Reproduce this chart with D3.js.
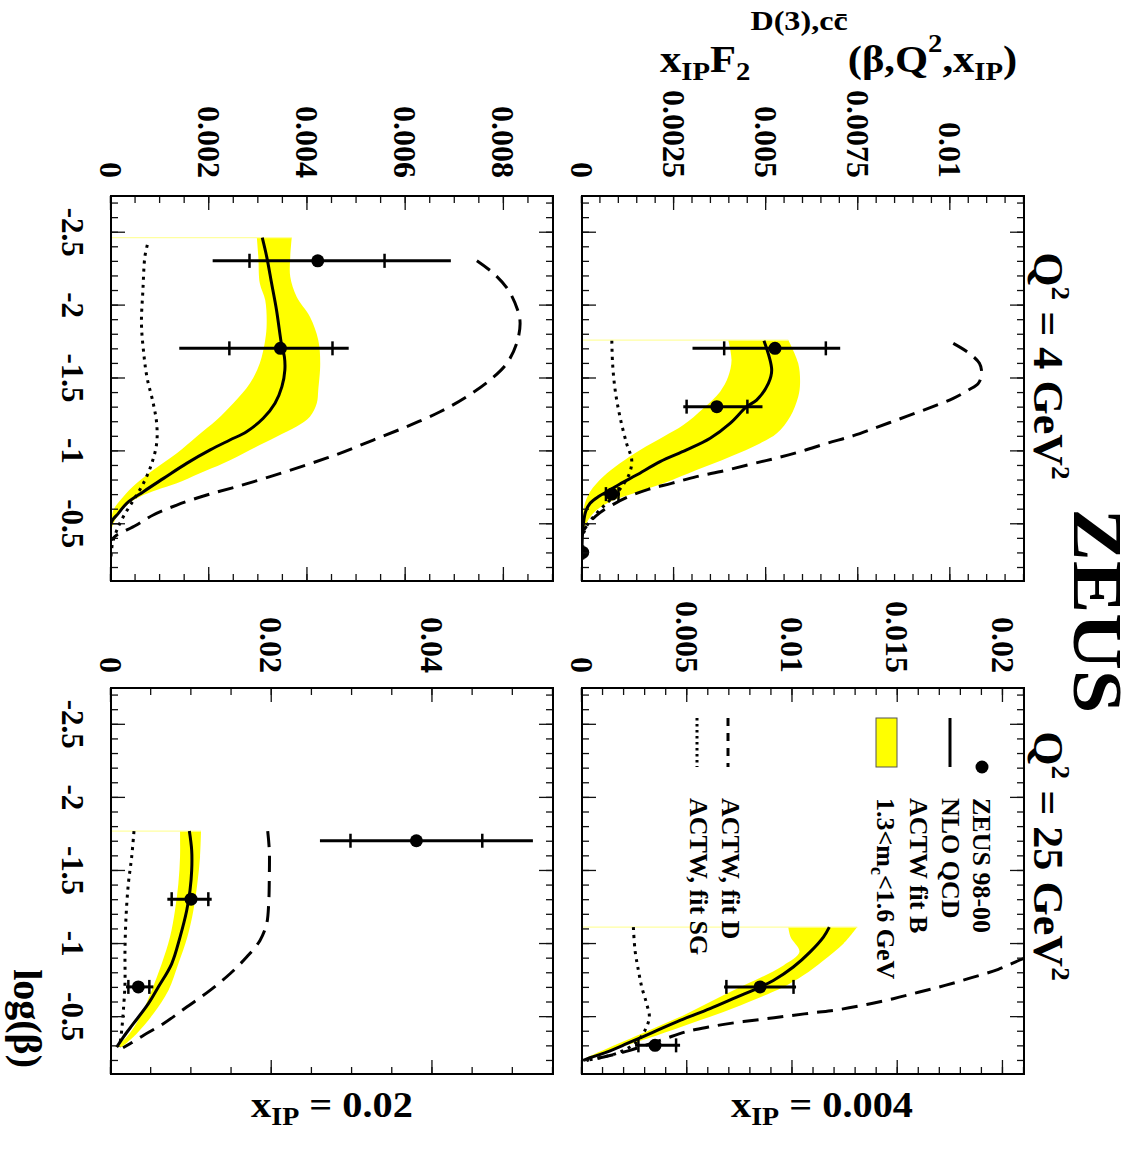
<!DOCTYPE html>
<html><head><meta charset="utf-8">
<script src="https://cdnjs.cloudflare.com/ajax/libs/d3/7.8.5/d3.min.js"></script>
<style>body{margin:0;background:#fff}svg{display:block}</style>
</head><body><svg id="c" width="1140" height="1151"></svg>
<script>
// ---------------- DATA ----------------
const logBetaTicks = [-2.5, -2, -1.5, -1, -0.5];
const logBetaTickLabels = ["-2.5", "-2", "-1.5", "-1", "-0.5"];
const q2Values = ["4", "25"];
const xpomValues = ["0.004", "0.02"];

// y-axis ticks per panel
const yTicks_x004_q4 = [0, 0.0025, 0.005, 0.0075, 0.01];
const yLabels_x004_q4 = ["0", "0.0025", "0.005", "0.0075", "0.01"];
const yTicks_x004_q25 = [0, 0.005, 0.01, 0.015, 0.02];
const yLabels_x004_q25 = ["0", "0.005", "0.01", "0.015", "0.02"];
const yTicks_x02_q4 = [0, 0.002, 0.004, 0.006, 0.008];
const yLabels_x02_q4 = ["0", "0.002", "0.004", "0.006", "0.008"];
const yTicks_x02_q25 = [0, 0.02, 0.04];
const yLabels_x02_q25 = ["0", "0.02", "0.04"];

// ZEUS 98-00 points: [logBeta, value, statLo, statHi, totLo, totHi]
const zeus_x004_q4 = [[-1.7,0.00524,0.00386,0.00662,0.00300,0.00701],[-1.3,0.00366,0.00284,0.00449,0.00275,0.00490],[-0.7,0.00081,0.00065,0.00099,0.00058,0.00103],[-0.3,0.00002,0.00001,0.00003,0.0,0.00004]];
const zeus_x004_q25 = [[-0.7,0.00846,0.00686,0.01005,0.00675,0.01017],[-0.3,0.00347,0.00268,0.00447,0.00252,0.00466]];
const zeus_x02_q4 = [[-2.3,0.00421,0.00282,0.00557,0.00207,0.00692],[-1.7,0.00345,0.00241,0.00451,0.00139,0.00484]];
const zeus_x02_q25 = [[-1.7,0.0380,0.0298,0.0462,0.0260,0.0525],[-1.3,0.00996,0.00755,0.01211,0.00701,0.01253],[-0.7,0.0034,0.00216,0.00477,0.00187,0.00527]];

// NLO QCD (ACTW fit B) central curves [logBeta, value]
const nlo_x004_q4 = [[-1.752,0.00494],[-1.551,0.00515],[-1.460,0.00506],[-1.345,0.00474],[-1.300,0.00447],[-1.185,0.00402],[-1.083,0.00348],[-1.003,0.00284],[-0.923,0.00212],[-0.831,0.00148],[-0.769,0.00103],[-0.728,0.00076],[-0.682,0.00044],[-0.637,0.00022],[-0.580,0.00010],[-0.500,0.00004],[-0.408,0.00001],[-0.317,0.0]];
const nlo_x004_q25 = [[-1.109,0.01175],[-1.041,0.01147],[-0.938,0.01083],[-0.836,0.01004],[-0.744,0.00909],[-0.699,0.00846],[-0.630,0.00735],[-0.551,0.00608],[-0.471,0.00466],[-0.391,0.00339],[-0.311,0.00212],[-0.254,0.00117],[-0.215,0.00038],[-0.197,0.00006]];
const nlo_x02_q4 = [[-2.459,0.00308],[-2.329,0.00317],[-2.146,0.00327],[-1.963,0.00337],[-1.711,0.00348],[-1.643,0.00353],[-1.551,0.00354],[-1.437,0.00348],[-1.323,0.00334],[-1.220,0.00310],[-1.128,0.00276],[-1.071,0.00242],[-1.003,0.00202],[-0.911,0.00154],[-0.808,0.00107],[-0.717,0.00066],[-0.637,0.00032],[-0.568,0.00015],[-0.522,0.00003],[-0.500,0.0]];
const nlo_x02_q25 = [[-1.766,0.00975],[-1.634,0.01004],[-1.497,0.01004],[-1.360,0.00983],[-1.223,0.00942],[-1.041,0.00859],[-0.858,0.00755],[-0.699,0.00589],[-0.585,0.00465],[-0.448,0.00278],[-0.357,0.00154],[-0.288,0.00071]];

// 1.3 < m_c < 1.6 GeV band edges
const bandHi_x004_q4 = [[-1.757,0.00560],[-1.597,0.00587],[-1.460,0.00592],[-1.368,0.00587],[-1.231,0.00565],[-1.117,0.00529],[-1.048,0.00483],[-0.957,0.00402],[-0.865,0.00311],[-0.774,0.00221],[-0.705,0.00139],[-0.648,0.00076],[-0.591,0.00040],[-0.522,0.00017],[-0.454,0.00005],[-0.362,0.00002],[-0.225,0.0]];
const bandLo_x004_q4 = [[-1.757,0.00397],[-1.620,0.00406],[-1.506,0.00397],[-1.403,0.00375],[-1.288,0.00329],[-1.174,0.00275],[-1.094,0.00221],[-1.003,0.00158],[-0.911,0.00103],[-0.820,0.00058],[-0.717,0.00022],[-0.637,0.00008],[-0.545,0.00002],[-0.454,0.0]];
const bandHi_x004_q25 = [[-1.109,0.01308],[-0.995,0.01242],[-0.881,0.01147],[-0.779,0.01052],[-0.699,0.00957],[-0.619,0.00830],[-0.528,0.00672],[-0.448,0.00513],[-0.368,0.00355],[-0.300,0.00212],[-0.243,0.00101],[-0.197,0.00014]];
const bandLo_x004_q25 = [[-1.109,0.00980],[-1.041,0.00991],[-0.938,0.01033],[-0.847,0.00957],[-0.767,0.00854],[-0.687,0.00735],[-0.596,0.00608],[-0.505,0.00481],[-0.425,0.00355],[-0.345,0.00228],[-0.277,0.00117],[-0.227,0.00038],[-0.202,0.00006]];
const bandHi_x02_q4 = [[-2.459,0.00368],[-2.329,0.00365],[-2.191,0.00365],[-2.054,0.00378],[-1.917,0.00405],[-1.757,0.00422],[-1.597,0.00426],[-1.414,0.00422],[-1.323,0.00419],[-1.231,0.00405],[-1.163,0.00378],[-1.094,0.00337],[-1.003,0.00283],[-0.911,0.00229],[-0.843,0.00181],[-0.774,0.00134],[-0.728,0.00093],[-0.682,0.00059],[-0.625,0.00032],[-0.545,0.00012],[-0.454,0.00001],[-0.271,0.0]];
const bandLo_x02_q4 = [[-2.459,0.00297],[-2.329,0.00300],[-2.146,0.00303],[-2.031,0.00314],[-1.871,0.00317],[-1.757,0.00314],[-1.597,0.00303],[-1.460,0.00283],[-1.323,0.00249],[-1.208,0.00215],[-1.094,0.00174],[-0.980,0.00134],[-0.865,0.00086],[-0.774,0.00052],[-0.682,0.00025],[-0.591,0.00005],[-0.500,0.0]];
const bandHi_x02_q25 = [[-1.766,0.01120],[-1.588,0.01108],[-1.406,0.01074],[-1.223,0.01025],[-1.041,0.00950],[-0.858,0.00838],[-0.676,0.00714],[-0.516,0.00527],[-0.380,0.00319],[-0.288,0.00133]];
const bandLo_x02_q25 = [[-1.766,0.00859],[-1.588,0.00859],[-1.406,0.00838],[-1.223,0.00796],[-1.041,0.00734],[-0.858,0.00631],[-0.676,0.00506],[-0.494,0.00361],[-0.357,0.00195],[-0.288,0.00050]];

// ACTW fit D (dashed)
const fitD_x004_q4 = [[-1.734,0.01008],[-1.670,0.01049],[-1.597,0.01079],[-1.528,0.01085],[-1.460,0.01076],[-1.414,0.01049],[-1.357,0.01008],[-1.311,0.00963],[-1.259,0.00909],[-1.208,0.00854],[-1.158,0.00800],[-1.101,0.00737],[-1.048,0.00664],[-0.991,0.00592],[-0.945,0.00524],[-0.904,0.00456],[-0.859,0.00384],[-0.820,0.00311],[-0.774,0.00243],[-0.733,0.00180],[-0.682,0.00126],[-0.630,0.00085],[-0.573,0.00049],[-0.511,0.00022],[-0.454,0.00005]];
const fitD_x004_q25 = [[-0.95,0.0222],[-0.893,0.02097],[-0.820,0.01978],[-0.763,0.01851],[-0.710,0.01725],[-0.665,0.01603],[-0.619,0.01479],[-0.580,0.01353],[-0.546,0.01226],[-0.523,0.01099],[-0.500,0.00972],[-0.478,0.00854],[-0.455,0.00727],[-0.425,0.00600],[-0.391,0.00489],[-0.345,0.00394],[-0.307,0.00315],[-0.266,0.00228],[-0.231,0.00133],[-0.197,0.00022]];
const fitD_x02_q4 = [[-2.301,0.00745],[-2.214,0.00779],[-2.100,0.00809],[-1.963,0.00828],[-1.871,0.00833],[-1.734,0.00826],[-1.597,0.00806],[-1.483,0.00772],[-1.368,0.00724],[-1.265,0.00670],[-1.163,0.00602],[-1.071,0.00534],[-0.980,0.00466],[-0.900,0.00398],[-0.820,0.00324],[-0.751,0.00256],[-0.694,0.00195],[-0.625,0.00134],[-0.557,0.00086],[-0.488,0.00052],[-0.442,0.00025],[-0.420,0.00012],[-0.385,0.00001]];
const fitD_x02_q25 = [[-1.766,0.01950],[-1.634,0.01970],[-1.451,0.01970],[-1.269,0.01962],[-1.132,0.01937],[-1.018,0.01854],[-0.904,0.01688],[-0.790,0.01481],[-0.676,0.01232],[-0.562,0.00942],[-0.448,0.00651],[-0.368,0.00402],[-0.311,0.00236],[-0.284,0.00150]];

// ACTW fit SG (dotted)
const fitSG_x004_q4 = [[-1.752,0.00081],[-1.597,0.00083],[-1.414,0.00090],[-1.231,0.00103],[-1.048,0.00121],[-0.934,0.00135],[-0.843,0.00129],[-0.751,0.00108],[-0.660,0.00076],[-0.580,0.00044],[-0.500,0.00017],[-0.431,0.00004]];
const fitSG_x004_q25 = [[-1.109,0.00244],[-0.950,0.00252],[-0.813,0.00268],[-0.699,0.00284],[-0.585,0.00307],[-0.494,0.00320],[-0.402,0.00299],[-0.323,0.00260],[-0.254,0.00181],[-0.215,0.00086],[-0.197,0.00014]];
const fitSG_x02_q4 = [[-2.409,0.00074],[-2.329,0.00069],[-2.100,0.00065],[-1.871,0.00062],[-1.688,0.00066],[-1.506,0.00073],[-1.323,0.00086],[-1.185,0.00093],[-1.048,0.00093],[-0.911,0.00083],[-0.774,0.00066],[-0.660,0.00046],[-0.545,0.00025],[-0.454,0.00012],[-0.362,0.00003],[-0.271,0.0]];
const fitSG_x02_q25 = [[-1.766,0.00286],[-1.588,0.00257],[-1.406,0.00216],[-1.178,0.00187],[-0.950,0.00174],[-0.722,0.00174],[-0.539,0.00154],[-0.402,0.00133],[-0.311,0.00112],[-0.288,0.00105]];

const legendLabels = ["ZEUS 98-00", "NLO QCD", "ACTW fit B", "ACTW, fit D", "ACTW, fit SG"];

// ---------------- LAYOUT (unrotated frame, then turned 90° clockwise) ----------------
const FONT = '"Liberation Serif","Times New Roman",Times,serif';
const svg = d3.select("#c");
const root = svg.append("g").attr("transform", "translate(1140,0) rotate(90)");
const colX = [[196, 581], [688, 1074]];   // Q2 = 4, 25
const rowY = [[116, 558], [587, 1029]];   // xIP = 0.004, 0.02
const xDomain = [-2.745, -0.104];
const labelPad = [18, 15];

const panels = [
  {c:0, r:0, yMax:0.012, minor:0.0005, yT:yTicks_x004_q4, yL:yLabels_x004_q4, nlo:nlo_x004_q4, bh:bandHi_x004_q4, bl:bandLo_x004_q4, fd:fitD_x004_q4, fs:fitSG_x004_q4, pts:zeus_x004_q4},
  {c:1, r:0, yMax:0.021, minor:0.001, yT:yTicks_x004_q25, yL:yLabels_x004_q25, nlo:nlo_x004_q25, bh:bandHi_x004_q25, bl:bandLo_x004_q25, fd:fitD_x004_q25, fs:fitSG_x004_q25, pts:zeus_x004_q25, legend:true},
  {c:0, r:1, yMax:0.009, minor:0.0005, yT:yTicks_x02_q4, yL:yLabels_x02_q4, nlo:nlo_x02_q4, bh:bandHi_x02_q4, bl:bandLo_x02_q4, fd:fitD_x02_q4, fs:fitSG_x02_q4, pts:zeus_x02_q4},
  {c:1, r:1, yMax:0.055, minor:0.005, yT:yTicks_x02_q25, yL:yLabels_x02_q25, nlo:nlo_x02_q25, bh:bandHi_x02_q25, bl:bandLo_x02_q25, fd:fitD_x02_q25, fs:fitSG_x02_q25, pts:zeus_x02_q25}
];

const defs = svg.append("defs");
const lbMinor = d3.range(-27, -1, 1).map(d => d / 10);

function tickAxis(g, axisFn, scale, vals, len, tx, ty) {
  g.append("g").attr("transform", `translate(${tx},${ty})`)
    .call(axisFn(scale).tickValues(vals).tickSize(-len).tickFormat(""))
    .call(s => s.select(".domain").remove())
    .selectAll("line").attr("stroke", "#111").attr("stroke-width", 1.3);
}

panels.forEach((p, i) => {
  const [X0, X1] = colX[p.c], [Y0, Y1] = rowY[p.r];
  const x = d3.scaleLinear().domain(xDomain).range([X0, X1]);
  const y = d3.scaleLinear().domain([0, p.yMax]).range([Y1, Y0]);
  const g = root.append("g");
  defs.append("clipPath").attr("id", "clip" + i).append("rect")
    .attr("x", X0).attr("y", Y0).attr("width", X1 - X0).attr("height", Y1 - Y0);
  const cg = g.append("g").attr("clip-path", `url(#clip${i})`);
  const line = d3.line().x(d => x(d[0])).y(d => y(d[1])).curve(d3.curveCatmullRom.alpha(0.5));

  // band
  const up = line(p.bh), lo = line(p.bl.slice().reverse());
  cg.append("path").attr("d", up + "L" + lo.slice(1) + "Z").attr("fill", "#ffff00").attr("stroke", "none");
  cg.append("line").attr("x1", x(p.bh[0][0])).attr("x2", x(p.bh[0][0]))
    .attr("y1", y(0)).attr("y2", y(p.bh[0][1])).attr("stroke", "#ffffa0").attr("stroke-width", 1.2);

  cg.append("path").attr("d", line(p.fs)).attr("fill", "none").attr("stroke", "#000")
    .attr("stroke-width", 3).attr("stroke-dasharray", "3,5");
  cg.append("path").attr("d", line(p.fd)).attr("fill", "none").attr("stroke", "#000")
    .attr("stroke-width", 3).attr("stroke-dasharray", "16,9");
  cg.append("path").attr("d", line(p.nlo)).attr("fill", "none").attr("stroke", "#000").attr("stroke-width", 3);

  // data points
  const pg = cg.selectAll("g.pt").data(p.pts).enter().append("g");
  pg.append("line").attr("x1", d => x(d[0])).attr("x2", d => x(d[0]))
    .attr("y1", d => y(d[4])).attr("y2", d => y(d[5])).attr("stroke", "#000").attr("stroke-width", 3);
  [2, 3].forEach(k => pg.append("line").attr("x1", d => x(d[0]) - 7).attr("x2", d => x(d[0]) + 7)
    .attr("y1", d => y(d[k])).attr("y2", d => y(d[k])).attr("stroke", "#000").attr("stroke-width", 2.5));
  pg.append("circle").attr("cx", d => x(d[0])).attr("cy", d => y(d[1])).attr("r", 6.5).attr("fill", "#000");

  // ticks on all sides
  const yMinor = d3.range(0, p.yMax + 1e-9, p.minor);
  tickAxis(g, d3.axisBottom, x, logBetaTicks, 14, 0, Y1);
  tickAxis(g, d3.axisBottom, x, lbMinor, 7, 0, Y1);
  tickAxis(g, d3.axisTop, x, logBetaTicks, 14, 0, Y0);
  tickAxis(g, d3.axisTop, x, lbMinor, 7, 0, Y0);
  tickAxis(g, d3.axisLeft, y, p.yT, 14, X0, 0);
  tickAxis(g, d3.axisLeft, y, yMinor, 7, X0, 0);
  tickAxis(g, d3.axisRight, y, p.yT, 14, X1, 0);
  tickAxis(g, d3.axisRight, y, yMinor, 7, X1, 0);

  // y labels
  g.append("g").attr("transform", `translate(${X0},0)`)
    .call(d3.axisLeft(y).tickValues(p.yT).tickSize(0).tickPadding(labelPad[p.c]).tickFormat((d, k) => p.yL[k]))
    .call(s => s.select(".domain").remove())
    .selectAll("text").attr("font-family", FONT).attr("font-weight", "bold").attr("font-size", 32).attr("dy", "0.34em");
  // x labels (bottom row only)
  if (p.r === 1) {
    g.append("g").attr("transform", `translate(0,${Y1})`)
      .call(d3.axisBottom(x).tickValues(logBetaTicks).tickSize(0).tickPadding(27).tickFormat((d, k) => logBetaTickLabels[k]))
      .call(s => s.select(".domain").remove())
      .selectAll("text").attr("font-family", FONT).attr("font-weight", "bold").attr("font-size", 31);
  }
  g.append("rect").attr("x", X0).attr("y", Y0).attr("width", X1 - X0).attr("height", Y1 - Y0)
    .attr("fill", "none").attr("stroke", "#000").attr("stroke-width", 2);

  if (p.legend) {
    const lg = g.append("g");
    lg.append("circle").attr("cx", 767).attr("cy", 158).attr("r", 6.5).attr("fill", "#000");
    lg.append("line").attr("x1", 718).attr("x2", 767).attr("y1", 190).attr("y2", 190).attr("stroke", "#000").attr("stroke-width", 3);
    lg.append("rect").attr("x", 718).attr("y", 243).attr("width", 49).attr("height", 21).attr("fill", "#ffff00").attr("stroke", "#555").attr("stroke-width", 1);
    lg.append("line").attr("x1", 718).attr("x2", 767).attr("y1", 412).attr("y2", 412).attr("stroke", "#000").attr("stroke-width", 3).attr("stroke-dasharray", "8,7");
    lg.append("line").attr("x1", 718).attr("x2", 767).attr("y1", 443).attr("y2", 443).attr("stroke", "#000").attr("stroke-width", 3).attr("stroke-dasharray", "2.5,3.5");
    const lt = (Y, s) => lg.append("text").attr("x", 798).attr("y", Y).attr("font-family", FONT).attr("font-weight", "bold").attr("font-size", 26).text(s);
    lt(167, legendLabels[0]); lt(198, legendLabels[1]); lt(230, legendLabels[2]);
    const mt = lg.append("text").attr("x", 798).attr("y", 263).attr("font-family", FONT).attr("font-weight", "bold").attr("font-size", 26);
    mt.append("tspan").text("1.3<m");
    mt.append("tspan").text("c").attr("font-size", 18).attr("dy", 6);
    mt.append("tspan").text("<1.6 GeV").attr("dy", -6);
    lt(418, legendLabels[3]); lt(450, legendLabels[4]);
  }
});

// ---------------- TITLES ----------------
function label(X, Y, rot, sx, anchor, size, parts) {
  const t = root.append("text").attr("transform", `translate(${X},${Y}) rotate(${rot}) scale(${sx},1)`)
    .attr("text-anchor", anchor).attr("font-family", FONT).attr("font-weight", "bold").attr("font-size", size);
  parts.forEach(pt => t.append("tspan").text(pt.t).attr("font-size", pt.s || size).attr("dy", pt.dy || 0));
  return t;
}
label(611, 66, 0, 1.12, "middle", 70, [{t: "ZEUS"}]);
label(366, 106, 0, 1.05, "middle", 42, [{t: "Q"}, {t: "2", s: 26, dy: -18}, {t: " = " + q2Values[0] + " GeV", dy: 18}, {t: "2", s: 26, dy: -18}]);
label(856, 106, 0, 1.05, "middle", 42, [{t: "Q"}, {t: "2", s: 26, dy: -18}, {t: " = " + q2Values[1] + " GeV", dy: 18}, {t: "2", s: 26, dy: -18}]);
label(1117, 318, -90, 1.12, "middle", 36, [{t: "x"}, {t: "IP", s: 25, dy: 8}, {t: " = " + xpomValues[0], dy: -8}]);
label(1117, 808, -90, 1.12, "middle", 36, [{t: "x"}, {t: "IP", s: 25, dy: 8}, {t: " = " + xpomValues[1], dy: -8}]);
label(1068, 1126, 0, 1.0, "end", 40, [{t: "log(β)"}]);
label(72, 480, -90, 1.15, "start", 37, [
  {t: "x"}, {t: "IP", s: 25, dy: 8}, {t: "F", dy: -8}, {t: "2", s: 25, dy: 8},
  {t: "D(3),cc\u0304", s: 28, dy: -50}, {t: "(β,Q", dy: 42}, {t: "2", s: 25, dy: -20},
  {t: ",x", dy: 20}, {t: "IP", s: 25, dy: 8}, {t: ")", dy: -8}
]);
</script></body></html>
